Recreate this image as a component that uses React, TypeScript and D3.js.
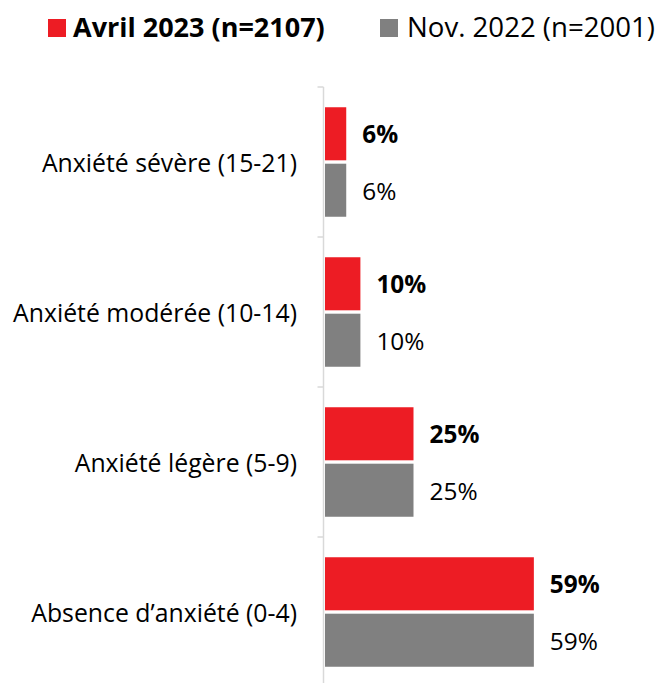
import React from "react";
import * as d3 from "d3";

const categories = [
  "Anxiété sévère (15-21)",
  "Anxiété modérée (10-14)",
  "Anxiété légère (5-9)",
  "Absence d’anxiété (0-4)",
];
const seriesNames = ["Avril 2023 (n=2107)", "Nov. 2022 (n=2001)"];
const avril2023 = [6, 10, 25, 59];
const nov2022 = [6, 10, 25, 59];
const seriesColors = ["#ED1C24", "#808080"];

const W = 664;
const H = 683;
const FONT = "'Open Sans', 'Liberation Sans', sans-serif";

export default function App() {
  const y = d3.scaleBand<string>().domain(categories).range([87, 687]).paddingInner(0.27).paddingOuter(0.135);
  const yInner = d3.scaleBand<number>().domain([0, 1]).range([0, y.bandwidth()]).paddingInner(0.06);
  const x = d3.scaleLinear().domain([0, 100]).range([325, 325 + 354]);
  const series = [avril2023, nov2022];
  const axisX = 323.5;
  const tickYs = categories.map((c) => (y(c) as number) - (y.step() - y.bandwidth()) / 2);

  return (
    <svg width={W} height={H} style={{ position: "absolute", left: 0, top: 0 }}>
      <rect width={W} height={H} fill="#fff" />
      {/* legend */}
      <rect x={48} y={19} width={18} height={18} fill={seriesColors[0]} />
      <text x={73} y={36.5} fontFamily={FONT} fontSize={27} fontWeight="bold" fill="#000">
        {seriesNames[0]}
      </text>
      <rect x={380} y={19} width={18} height={18} fill={seriesColors[1]} />
      <text x={407} y={36.5} fontFamily={FONT} fontSize={27.6} fill="#000">
        {seriesNames[1]}
      </text>
      {/* axis */}
      <line x1={axisX} x2={axisX} y1={87} y2={H} stroke="#d9d9d9" strokeWidth={1.5} />
      {tickYs.map((t, i) => (
        <line key={i} x1={axisX - 6} x2={axisX} y1={t} y2={t} stroke="#d9d9d9" strokeWidth={1.5} />
      ))}
      {categories.map((c, ci) => (
        <g key={c}>
          <text
            x={297}
            y={(y(c) as number) + y.bandwidth() / 2}
            textAnchor="end"
            dominantBaseline="central"
            fontFamily={FONT}
            fontSize={24.8}
            fill="#000"
          >
            {c}
          </text>
          {series.map((s, si) => {
            const by = (y(c) as number) + (yInner(si) as number);
            return (
              <g key={si}>
                <rect x={x(0)} y={by} width={x(s[ci]) - x(0)} height={yInner.bandwidth()} fill={seriesColors[si]} />
                <text
                  x={x(s[ci]) + 16}
                  y={by + yInner.bandwidth() / 2}
                  dominantBaseline="central"
                  fontFamily={FONT}
                  fontSize={24.4}
                  fontWeight={si === 0 ? "bold" : "normal"}
                  fill="#000"
                >
                  {s[ci]}%
                </text>
              </g>
            );
          })}
        </g>
      ))}
    </svg>
  );
}
